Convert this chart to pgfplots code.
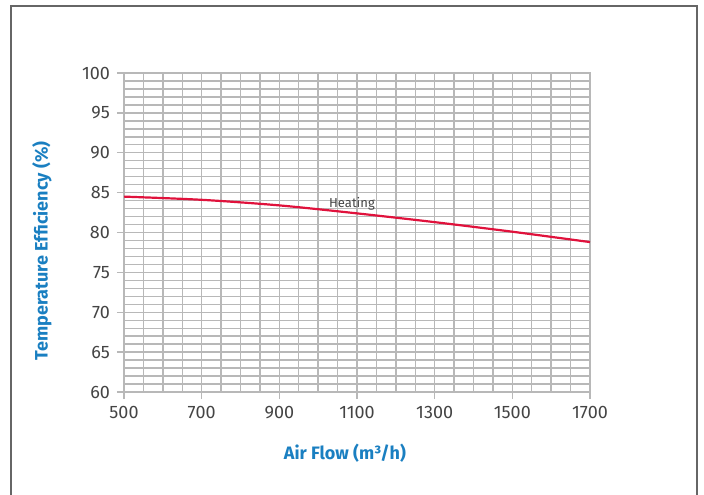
\documentclass[border=0pt]{standalone}
\usepackage{fontspec}
\setmainfont{Fira Sans}
\usepackage{pgfplots}
\pgfplotsset{compat=1.18}
\definecolor{gridgray}{HTML}{B8B8B8}
\definecolor{labelblue}{HTML}{1A7FC1}
\definecolor{curvered}{HTML}{E0123C}
\definecolor{ticktext}{HTML}{444444}
\begin{document}
\begin{tikzpicture}
\useasboundingbox (0,0) rectangle (352pt,247pt);
\draw[color=black!60, line width=1pt] (5.5pt,-2pt) -- (5.5pt,244pt) -- (348.5pt,244pt) -- (348.5pt,-2pt);
\begin{axis}[
  at={(62pt,51pt)}, anchor=south west,
  scale only axis, width=233pt, height=159.5pt,
  xmin=500, xmax=1700, ymin=60, ymax=100,
  xtick={500,700,...,1700}, ytick={60,65,...,100},
  minor x tick num=3, minor y tick num=4,
  grid=both,
  major grid style={gridgray, line width=0.7pt},
  minor grid style={gridgray, line width=0.7pt},
  axis line style={gridgray, line width=0.7pt},
  tick align=outside, tick pos=left,
  major tick length=3.5pt, minor tick length=0pt,
  tick style={gridgray, line width=0.7pt},
  tick label style={font=\fontsize{9}{10}\selectfont, color=ticktext},
  /pgf/number format/assume math mode=true,
  /pgf/number format/1000 sep={},
  xlabel={Air Flow (m³/h)},
  ylabel={Temperature Efficiency (\%)},
  label style={font=\bfseries\fontsize{9}{10}\selectfont, color=labelblue},
  xlabel style={at={(axis description cs:0.474,-0.191)}, anchor=center},
  ylabel style={at={(axis description cs:-0.176,0.442)}, anchor=center},
]
\addplot[curvered, line width=1.1pt, smooth] coordinates {
  (500,84.5) (700,84.1) (900,83.4) (1100,82.4) (1300,81.3) (1500,80.1) (1700,78.8)
};
\node[font=\fontsize{6.5}{7}\selectfont, color=ticktext] at (axis cs:1087,83.6) {Heating};
\end{axis}
\end{tikzpicture}
\end{document}
